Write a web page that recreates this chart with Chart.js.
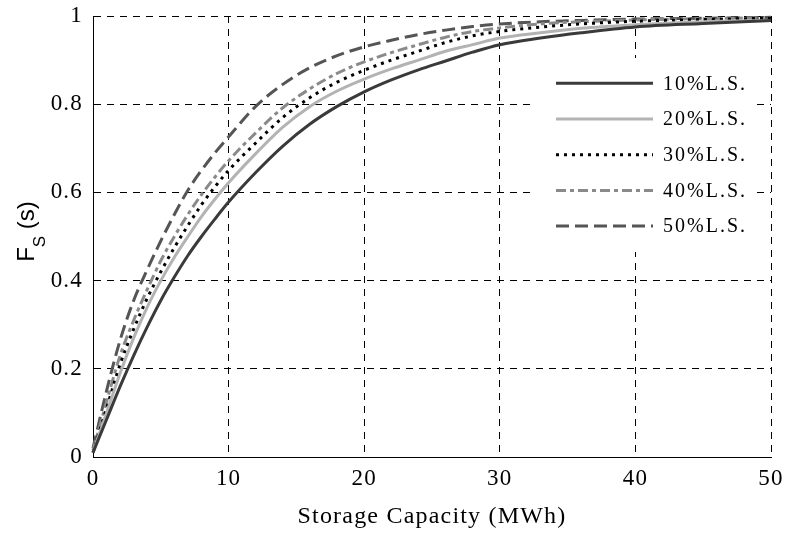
<!DOCTYPE html>
<html>
<head>
<meta charset="utf-8">
<script src="https://cdn.jsdelivr.net/npm/chart.js@4/dist/chart.umd.min.js"></script>
<style>
  html, body { margin: 0; padding: 0; background: #fff; }
  #wrap { width: 787px; height: 533px; }
</style>
</head>
<body>
<div id="wrap"><canvas id="c" width="787" height="533"></canvas></div>
<script>
// Storage capacity sample points (MWh)
const storage = [0, 1, 2, 3, 4, 5, 6, 7, 8, 9, 10, 12, 14, 16, 18, 20, 22, 24, 26, 28, 30, 33, 36, 40, 45, 50];

// Cumulative share F_S(s) for each load-shifting level
const fs10 = [0.01, 0.085, 0.16, 0.23, 0.295, 0.355, 0.408, 0.457, 0.50, 0.54, 0.578, 0.645, 0.705, 0.755, 0.795, 0.828, 0.855, 0.878, 0.898, 0.918, 0.935, 0.95, 0.962, 0.975, 0.983, 0.99];
const fs20 = [0.01, 0.10, 0.19, 0.27, 0.34, 0.40, 0.453, 0.50, 0.545, 0.585, 0.622, 0.688, 0.748, 0.795, 0.83, 0.857, 0.88, 0.90, 0.92, 0.935, 0.95, 0.962, 0.972, 0.98, 0.987, 0.99];
const fs30 = [0.01, 0.11, 0.21, 0.29, 0.36, 0.42, 0.475, 0.525, 0.572, 0.613, 0.65, 0.712, 0.77, 0.815, 0.85, 0.877, 0.90, 0.92, 0.94, 0.955, 0.965, 0.975, 0.982, 0.988, 0.992, 0.995];
const fs40 = [0.015, 0.125, 0.23, 0.31, 0.38, 0.445, 0.50, 0.55, 0.595, 0.635, 0.672, 0.735, 0.792, 0.835, 0.87, 0.896, 0.917, 0.935, 0.952, 0.965, 0.973, 0.982, 0.987, 0.991, 0.994, 0.996];
const fs50 = [0.02, 0.15, 0.265, 0.355, 0.425, 0.49, 0.55, 0.605, 0.65, 0.69, 0.726, 0.795, 0.845, 0.883, 0.91, 0.93, 0.945, 0.958, 0.968, 0.976, 0.982, 0.987, 0.99, 0.993, 0.995, 0.997];

const seriesLabels = ['10%L.S.', '20%L.S.', '30%L.S.', '40%L.S.', '50%L.S.'];

const xTickValues = [0, 10, 20, 30, 40, 50];
const xTickLabels = ['0', '10', '20', '30', '40', '50'];
const yTickValues = [0, 0.2, 0.4, 0.6, 0.8, 1];
const yTickLabels = ['0', '0.2', '0.4', '0.6', '0.8', '1'];

const xTitle = 'Storage Capacity (MWh)';
const yTitleMain = 'F';
const yTitleSub = 'S';
const yTitleRest = ' (s)';

const SERIF = '"Liberation Serif", "Times New Roman", serif';
const SANS = '"Liberation Sans", Arial, sans-serif';

const pts = ys => storage.map((x, i) => ({ x: x, y: ys[i] }));

const lineStyles = [
  { color: '#3a3a3a', dash: [] },
  { color: '#b3b3b3', dash: [] },
  { color: '#000000', dash: [3, 5] },
  { color: '#8a8a8a', dash: [10, 4, 4, 4] },
  { color: '#555555', dash: [13, 6] }
];
const seriesData = [fs10, fs20, fs30, fs40, fs50];

const datasets = seriesData.map((ys, i) => ({
  label: seriesLabels[i],
  data: pts(ys),
  borderColor: lineStyles[i].color,
  borderDash: lineStyles[i].dash,
  borderWidth: 3,
  borderCapStyle: 'butt',
  pointRadius: 0,
  fill: false,
  cubicInterpolationMode: 'monotone',
  clip: 4
}));

// Legend box with white background, drawn inside the plot area
const legendBox = {
  id: 'legendBox',
  beforeDraw(chart) {
    chart.ctx.letterSpacing = '1.2px';
  },
  afterDatasetsDraw(chart) {
    const ctx = chart.ctx;
    const { left, top } = chart.chartArea;
    ctx.save();
    ctx.fillStyle = '#ffffff';
    ctx.fillRect(left + 440, top + 42, 224, 194);
    const rowY0 = top + 67.3;
    const rowStep = 35.7;
    chart.data.datasets.forEach((ds, i) => {
      const y = rowY0 + i * rowStep;
      ctx.beginPath();
      ctx.lineWidth = ds.borderWidth;
      ctx.strokeStyle = ds.borderColor;
      ctx.lineCap = 'butt';
      ctx.setLineDash(ds.borderDash);
      ctx.moveTo(left + 463, y);
      ctx.lineTo(left + 560, y);
      ctx.stroke();
      ctx.setLineDash([]);
      ctx.fillStyle = '#000';
      ctx.font = '20px ' + SERIF;
      ctx.letterSpacing = '2px';
      ctx.textAlign = 'left';
      ctx.textBaseline = 'middle';
      ctx.fillText(ds.label, left + 570, y + 1);
    });
    ctx.restore();
  },
  afterDraw(chart) {
    // Rotated axis title with subscript
    const ctx = chart.ctx;
    const { top, bottom } = chart.chartArea;
    ctx.save();
    ctx.letterSpacing = '0px';
    const mainFont = '24px ' + SANS;
    const subFont = '17px ' + SANS;
    ctx.font = mainFont;
    const wMain = ctx.measureText(yTitleMain).width;
    const wRest = ctx.measureText(yTitleRest).width;
    ctx.font = subFont;
    const wSub = ctx.measureText(yTitleSub).width;
    const total = wMain + wSub + wRest;
    const cy = (top + bottom) / 2 - 5;
    ctx.translate(34, cy);
    ctx.rotate(-Math.PI / 2);
    ctx.fillStyle = '#000';
    ctx.textBaseline = 'alphabetic';
    ctx.textAlign = 'left';
    let x = -total / 2;
    ctx.font = mainFont;
    ctx.fillText(yTitleMain, x, 0);
    x += wMain;
    ctx.font = subFont;
    ctx.fillText(yTitleSub, x, 11);
    x += wSub;
    ctx.font = mainFont;
    ctx.fillText(yTitleRest, x, 0);
    ctx.restore();
  }
};

const noEdgePadding = s => {
  s.paddingTop = 0;
  s.paddingBottom = 0;
  s.paddingLeft = 0;
  s.paddingRight = 0;
};

new Chart(document.getElementById('c'), {
  type: 'line',
  data: { datasets: datasets },
  options: {
    responsive: false,
    animation: false,
    events: [],
    layout: { padding: { top: 16, right: 16, left: 0, bottom: 0 } },
    plugins: { legend: { display: false }, tooltip: { enabled: false } },
    scales: {
      x: {
        type: 'linear',
        min: 0,
        max: 50,
        afterBuildTicks: s => { s.ticks = xTickValues.map(v => ({ value: v })); },
        afterFit: s => { s.height = 76; noEdgePadding(s); },
        ticks: {
          autoSkip: false,
          maxRotation: 0,
          padding: 8,
          color: '#000',
          font: { family: SERIF, size: 23 },
          callback: v => xTickLabels[xTickValues.indexOf(v)]
        },
        grid: { color: '#000', lineWidth: 1, drawTicks: false },
        border: { display: true, color: '#000', width: 1, dash: [7, 6] },
        title: {
          display: true,
          text: xTitle,
          color: '#000',
          font: { family: SERIF, size: 24 },
          padding: { top: 0, bottom: 2 }
        }
      },
      y: {
        type: 'linear',
        min: 0,
        max: 1,
        afterBuildTicks: s => { s.ticks = yTickValues.map(v => ({ value: v })); },
        afterFit: s => { s.width = 93; noEdgePadding(s); },
        ticks: {
          autoSkip: false,
          padding: 10,
          color: '#000',
          font: { family: SERIF, size: 23 },
          callback: v => yTickLabels[yTickValues.indexOf(v)]
        },
        grid: { color: '#000', lineWidth: 1, drawTicks: false },
        border: { display: true, color: '#000', width: 1, dash: [7, 6] }
      }
    }
  },
  plugins: [legendBox]
});
</script>
</body>
</html>
